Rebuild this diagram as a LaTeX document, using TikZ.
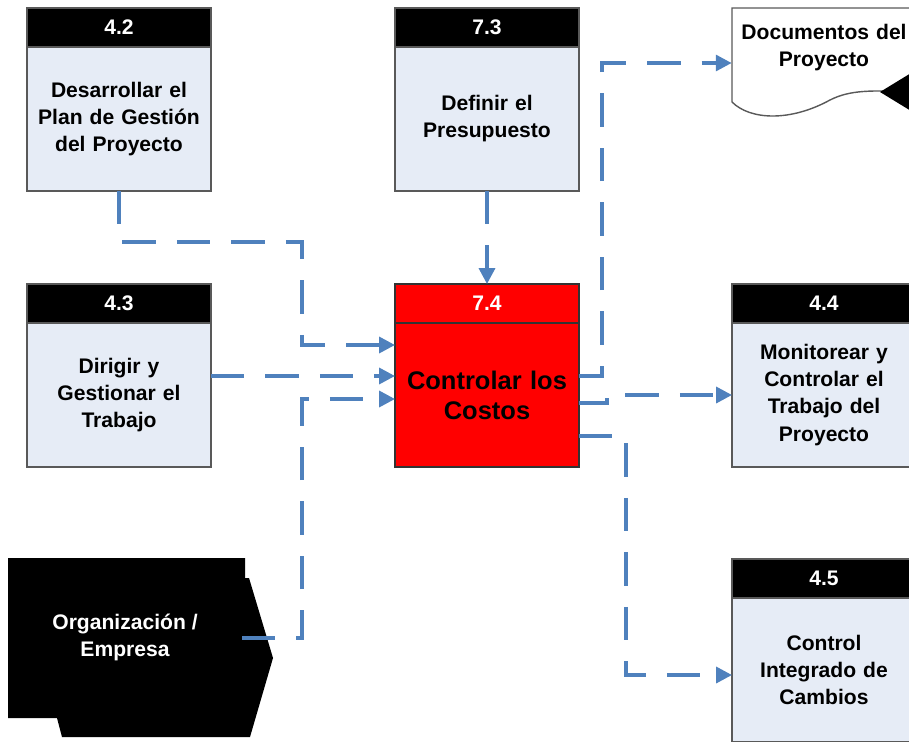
\documentclass[tikz,border=0pt]{standalone}
\usepackage{fontspec}
\setmainfont{Liberation Sans}
\usetikzlibrary{arrows.meta,positioning,calc}

\definecolor{azulclaro}{RGB}{230,236,246}
\definecolor{azul}{RGB}{79,129,189}

\begin{document}
\begin{tikzpicture}[
            x=0.02cm, y=-0.02cm,
            font=\bfseries\fontsize{12}{15.4}\selectfont,
            % cuerpo y cabecera de cada proceso
            proceso/.style={rectangle, draw=black!65, fill=azulclaro, line width=0.8pt, minimum width=3.68cm, minimum height=2.88cm, text width=3.4cm, align=center, inner sep=0pt, outer sep=0pt},
            cabecera/.style={rectangle, draw=black!65, fill=black, text=white, line width=0.8pt, minimum width=3.68cm, minimum height=0.78cm, inner sep=0pt, outer sep=0pt},
            flecha/.style={draw=azul, line width=2pt, dash pattern=on 19pt off 12pt, -{Triangle[length=9pt,width=9pt]}}
        ]
        \path[use as bounding box, clip] (0,0) rectangle (909,741);

        % Procesos
        \node (p42) [proceso] at (119,119) {Desarrollar el\\Plan de Gestión\\del Proyecto};
        \node (p42h) [cabecera, above=0pt of p42] {4.2};
        \node (p73) [proceso] at (487,119) {Definir el\\Presupuesto};
        \node (p73h) [cabecera, above=0pt of p73] {7.3};
        \node (p43) [proceso] at (119,395) {Dirigir y\\Gestionar el\\Trabajo};
        \node (p43h) [cabecera, above=0pt of p43] {4.3};
        \node (p44) [proceso] at (824,395) {Monitorear y\\Controlar el\\Trabajo del\\Proyecto};
        \node (p44h) [cabecera, above=0pt of p44] {4.4};
        \node (p45) [proceso] at (824,670) {Control\\Integrado de\\Cambios};
        \node (p45h) [cabecera, above=0pt of p45] {4.5};

        % Proceso central
        \node (p74) [proceso, fill=red, draw=black!80, text width=3.5cm, font=\bfseries\fontsize{14.5}{17}\selectfont] at (487,395) {Controlar los\\Costos};
        \node (p74h) [cabecera, fill=red, draw=black!80, above=0pt of p74] {7.4};

        % Documentos del proyecto
        \draw[black!65, fill=white, line width=0.8pt] (732,8) -- (916,8) -- (916,92)
            .. controls (870,90) and (850,90) .. (830,100)
            .. controls (790,122) and (750,120) .. (732,102) -- cycle;
        \fill (880,92) -- (916,70) -- (916,114) -- cycle;
        \node (docs) [text width=3.4cm, align=center, inner sep=0pt, minimum width=3.68cm] at (824,48) {Documentos del\\Proyecto};

        % Organizacion / Empresa
        \fill (8,558) -- (245,558) -- (245,578) -- (249,578) -- (273,658) -- (250,737)
            -- (62,737) -- (57,718) -- (8,718) -- cycle;
        \node (org) [text=white, align=center] at (125,637) {Organización /\\Empresa};
        \coordinate (orgsal) at (242,638);

        % Entradas
        \draw [flecha] (p42.south) -- ++(0,51) -| ($(p74.west)+(-93,-50)$) -- ($(p74.west)+(0,-50)$);
        \draw [flecha] ($(p43.east)+(0,-19)$) -- ($(p74.west)+(0,-19)$);
        \draw [flecha] (orgsal) -| ($(p74.west)+(-93,4)$) -- ($(p74.west)+(0,4)$);
        \draw [flecha] (p73.south) -- (p74h.north);

        % Salidas
        \draw [flecha] ($(p74.east)+(0,-19)$) -- ++(23,0) |- ($(docs.west)+(0,15)$);
        \draw [flecha] ($(p74.east)+(0,8)$) -- ++(28,0) |- (p44.west);
        \draw [flecha] ($(p74.east)+(0,41)$) -- ++(47,0) |- ($(p45.west)+(0,5)$);

    \end{tikzpicture}
\end{document}
